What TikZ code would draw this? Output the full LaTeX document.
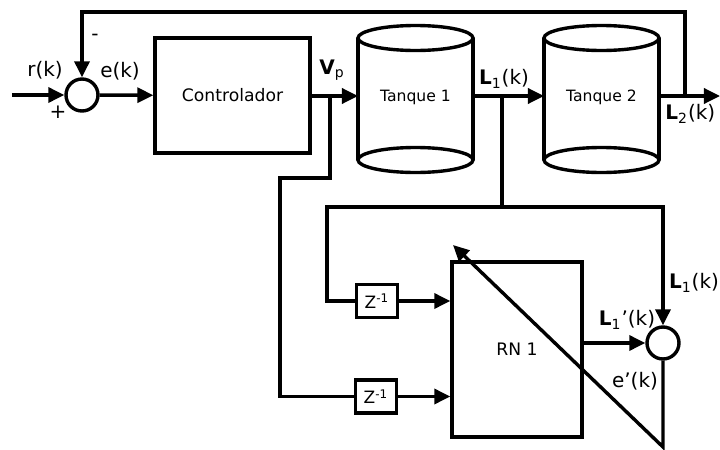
\documentclass[tikz,border=0pt]{standalone}
\usepackage{fontspec}
\setmainfont{DejaVu Sans}
\usetikzlibrary{arrows.meta,positioning}

\begin{document}
\begin{tikzpicture}[x=0.5pt,y=-0.5pt,>={Triangle[length=8pt,width=7.5pt]},
    line width=1.7pt,
    block/.style={draw,line width=1.7pt,fill=white,font=\fontsize{8.6}{10}\selectfont},
    delay/.style={block,minimum width=20.5pt,minimum height=16.5pt,inner sep=0pt,
                  font=\fontsize{8.5}{10}\selectfont},
    summer/.style={draw,circle,line width=1.7pt,minimum size=16pt,inner sep=0pt},
    sig/.style={font=\fontsize{10}{12}\selectfont,inner sep=1pt}]
    \useasboundingbox (0,0) rectangle (720,450);
    % tanks
    \foreach \cx in {415.5,601.5} {
        \draw (\cx-57.5,38) -- (\cx-57.5,160);
        \draw (\cx+57.5,38) -- (\cx+57.5,160);
        \draw (\cx,38) ellipse [x radius=28.75pt,y radius=6.25pt];
        \draw (\cx,160) ellipse [x radius=28.75pt,y radius=6.25pt];
    }
    \node[font=\fontsize{7.8}{9}\selectfont] (t1) at (415.5,97) {Tanque 1};
    \node[font=\fontsize{7.8}{9}\selectfont] (t2) at (601.5,97) {Tanque 2};
    \coordinate (t1w) at (358,96);
    \coordinate (t1e) at (473,96);
    \coordinate (t2w) at (544,96);
    \coordinate (t2e) at (659,96);
    % blocks
    \node[summer] (sum) at (82,95) {};
    \node[block,minimum width=77.5pt,minimum height=57.5pt] (ctrl) at (232.5,95.5) {Controlador};
    \node[block,minimum width=65pt,minimum height=87.5pt] (rn) at (517,349.5) {RN 1};
    \node[delay] (z1) at (377,301) {Z\textsuperscript{-1}};
    \node[delay] (z2) at (376,396.5) {Z\textsuperscript{-1}};
    \node[summer] (sum2) at (663,343) {};
    % taps and corners
    \coordinate (in) at (12,95);
    \coordinate (vpj) at (330,96);
    \coordinate (tapA) at (280,178);
    \coordinate (l1j) at (502,96);
    \coordinate (tapB) at (502,207);
    \coordinate (tapC) at (327,207);
    \coordinate (fbj) at (685,96);
    \coordinate (out) at (720,96);
    \coordinate (eb) at (663,447);
    \coordinate (etip) at (453,245);
    % signals
    \draw[->] (in) -- (sum);
    \draw[->] (sum) -- (ctrl);
    \draw[->] (ctrl.east |- vpj) -- (t1w);
    \draw[->] (t1e) -- (t2w);
    \draw[->] (t2e) -- (out);
    \draw[->] (fbj) -- ++(0,-84) -| (sum);
    \draw (vpj) |- (tapA) |- (z2);
    \draw (l1j) -- (tapB) -- (tapC) |- (z1);
    \draw[->] (tapB) -| (sum2);
    \draw[->] (z1) -- (z1 -| rn.west);
    \draw[->] (z2) -- (z2 -| rn.west);
    \draw[->] (rn.east |- sum2) -- (sum2);
    \draw[->] (sum2) -- (eb) -- (etip);
    % labels
    \node[sig] at (45,70) {r(k)};
    \node[sig] at (58,112) {+};
    \node[sig] at (95,37) {-};
    \node[sig] at (120,71) {e(k)};
    \node[sig] at (332,70) {\textbf{V}\textsubscript{p}};
    \node[sig] at (504,79) {\textbf{L}\textsubscript{1}(k)};
    \node[sig,anchor=east] at (719,114) {\textbf{L}\textsubscript{2}(k)};
    \node[sig] at (694,283) {\textbf{L}\textsubscript{1}(k)};
    \node[sig] at (627,320) {\textbf{L}\textsubscript{1}'(k)};
    \node[sig] at (635,381) {e'(k)};
\end{tikzpicture}
\end{document}
